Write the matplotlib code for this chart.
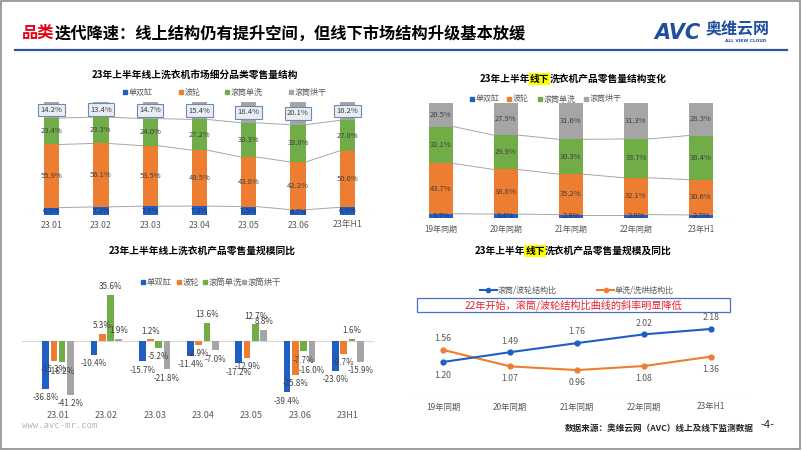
import matplotlib
matplotlib.use('Agg')
import matplotlib.pyplot as plt
from matplotlib.patches import Rectangle
from matplotlib.lines import Line2D
import matplotlib.transforms as mtrans

plt.rcParams['font.family'] = ['Noto Sans CJK SC', 'DejaVu Sans']

# ---------------- data ----------------
series = ['单双缸', '波轮', '滚筒单洗', '滚筒烘干']
colors = ['#1F5FC4', '#ED7D31', '#70AD47', '#A5A5A5']

c1_cats = ['23.01', '23.02', '23.03', '23.04', '23.05', '23.06', '23年H1']
c1_single = [6.5, 7.2, 7.8, 7.9, 7.5, 4.7, 6.8]
c1_pulsator = [55.9, 56.1, 53.5, 49.5, 43.8, 42.2, 50.0]
c1_drum_wash = [23.4, 23.3, 24.0, 27.2, 30.3, 33.0, 27.0]
c1_drum_dry = [14.2, 13.4, 14.7, 15.4, 18.4, 20.1, 16.2]

c2_cats = ['19年同期', '20年同期', '21年同期', '22年同期', '23年H1']
c2_single = [3.7, 3.4, 2.9, 2.9, 2.7]
c2_pulsator = [43.7, 38.8, 35.2, 32.1, 30.6]
c2_drum_wash = [32.1, 29.9, 30.3, 33.7, 38.4]
c2_drum_dry = [20.5, 27.9, 31.6, 31.3, 28.3]

c3_cats = ['23.01', '23.02', '23.03', '23.04', '23.05', '23.06', '23H1']
c3_single = [-36.8, -10.4, -15.7, -11.4, -17.2, -39.4, -23.0]
c3_pulsator = [-15.3, 5.3, 1.2, -2.9, -12.9, -25.8, -9.7]
c3_drum_wash = [-16.2, 35.6, -5.2, 13.6, 12.7, -7.7, 1.6]
c3_drum_dry = [-41.2, 1.9, -21.8, -7.0, 8.8, -16.0, -15.9]

c4_cats = ['19年同期', '20年同期', '21年同期', '22年同期', '23年H1']
c4_series = ['滚筒/波轮结构比', '单洗/洗烘结构比']
c4_drum_ratio = [1.20, 1.49, 1.76, 2.02, 2.18]
c4_wash_ratio = [1.56, 1.07, 0.96, 1.08, 1.36]

# ---------------- figure ----------------
W, H = 802, 451
fig = plt.figure(figsize=(W / 100, H / 100), dpi=100)
renderer = fig.canvas.get_renderer()


def fx(x):
    return x / W


def fy(y):
    return 1 - y / H


def ax_px(l, t, r, b):
    a = fig.add_axes([l / W, 1 - b / H, (r - l) / W, (b - t) / H])
    a.set_axis_off()
    return a


def piece_text(x, y, pieces, size, weight='bold', align='center'):
    texts = []
    for s, c, bg in pieces:
        kw = {}
        if bg:
            kw['bbox'] = dict(facecolor=bg, edgecolor='none', pad=0.6)
        t = fig.text(0, fy(y), s, fontsize=size, color=c, fontweight=weight,
                     va='center', ha='left', **kw)
        texts.append(t)
    widths = [t.get_window_extent(renderer).width for t in texts]
    total = sum(widths)
    start = x - total / 2 if align == 'center' else x
    for t, w in zip(texts, widths):
        t.set_x(fx(start))
        start += w


def legend_sq(items, y, size, msz=4, tcolor='#595959'):
    for x, label, color in items:
        fig.patches.append(Rectangle((fx(x - msz / 2), fy(y + msz / 2)), msz / W, msz / H,
                                     transform=fig.transFigure, color=color))
        fig.text(fx(x + 4), fy(y), label, fontsize=size, color=tcolor, va='center', ha='left')


def hline_px(x0, x1, y, color, lw):
    fig.lines.append(Line2D([fx(x0), fx(x1)], [fy(y), fy(y)], transform=fig.transFigure,
                            color=color, lw=lw))


# slide border and header
fig.patches.append(Rectangle((fx(1), fy(449)), 799 / W, 448 / H, transform=fig.transFigure,
                             fill=False, ec='#8C8C8C', lw=1.2))
piece_text(22, 33, [('品类', '#E60012', None),
                    ('迭代降速：线上结构仍有提升空间，但线下市场结构升级基本放缓', '#000000', None)],
           11.7, align='left')
hline_px(15, 787, 49.5, '#2F5597', 1.6)
fig.text(fx(654), fy(33), 'AVC', fontsize=15, color='#1F4E9F', fontweight='bold',
         fontstyle='italic', family='DejaVu Sans', va='center', ha='left')
fig.text(fx(706), fy(29), '奥维云网', fontsize=11.5, color='#1F4E9F', fontweight='bold',
         va='center', ha='left')
fig.text(fx(746), fy(41), 'ALL VIEW CLOUD', fontsize=3.2, color='#1F4E9F', fontweight='bold',
         family='DejaVu Sans', va='center', ha='center')


def stacked(ax, cats, data, width, top_box, cat_y, cat_size):
    n = len(cats)
    bottoms = [0.0] * n
    cums = []
    for k, vals in enumerate(data):
        ax.bar(range(n), vals, width=width, bottom=bottoms, color=colors[k], zorder=3)
        for i, v in enumerate(vals):
            c = bottoms[i] + v / 2
            if k == 3 and top_box:
                ax.text(i, c, f'{v:.1f}%', fontsize=5.5, color='#404040', ha='center', va='center',
                        zorder=6, bbox=dict(boxstyle='square,pad=0.3', fc='#E8EDF4', ec='#7189AE', lw=0.8))
            else:
                ax.text(i, c, f'{v:.1f}%', fontsize=5.5, color='#404040' if k else '#203864',
                        ha='center', va='center', zorder=5)
        bottoms = [b + v for b, v in zip(bottoms, vals)]
        cums.append(list(bottoms))
    for k in range(3):
        for i in range(n - 1):
            ax.plot([i + width / 2, i + 1 - width / 2], [cums[k][i], cums[k][i + 1]],
                    color='#A6A6A6', lw=0.7, zorder=2)
    ax.axhline(0, color='#D9D9D9', lw=0.8, zorder=1)
    ax.set_xlim(-0.5, n - 0.5)
    ax.set_ylim(0, 100)
    tr = mtrans.blended_transform_factory(ax.transData, fig.transFigure)
    for i, c in enumerate(cats):
        ax.text(i, fy(cat_y), c, transform=tr, fontsize=cat_size, color='#595959',
                ha='center', va='center')


# ---------- chart 1 ----------
piece_text(195, 75, [('23年上半年线上洗衣机市场细分品类零售量结构', '#000000', None)], 7)
legend_sq([(125, series[0], colors[0]), (181, series[1], colors[1]),
           (227, series[2], colors[2]), (291, series[3], colors[3])], 92, 5.8)
ax1 = ax_px(27, 102, 372, 215)
stacked(ax1, c1_cats, [c1_single, c1_pulsator, c1_drum_wash, c1_drum_dry], 0.31, True, 225, 6.3)

# ---------- chart 2 ----------
piece_text(573, 79, [('23年上半年', '#000000', None), ('线下', '#000000', '#FFFF00'),
                     ('洗衣机产品零售量结构变化', '#000000', None)], 7)
legend_sq([(472, series[0], colors[0]), (509, series[1], colors[1]),
           (540, series[2], colors[2]), (586, series[3], colors[3])], 99, 5.8)
ax2 = ax_px(408.5, 103, 733.5, 218)
stacked(ax2, c2_cats, [c2_single, c2_pulsator, c2_drum_wash, c2_drum_dry], 0.38, False, 229, 5.8)

# ---------- chart 3 ----------
piece_text(202, 251, [('23年上半年线上洗衣机产品零售量规模同比', '#000000', None)], 7)
legend_sq([(143, series[0], colors[0]), (179, series[1], colors[1]),
           (205, series[2], colors[2]), (244, series[3], colors[3])], 282, 6)
ax3 = ax_px(22, 289, 375, 406)
pitch, bw = 0.172, 0.138
for k, vals in enumerate([c3_single, c3_pulsator, c3_drum_wash, c3_drum_dry]):
    xs = [i + (k - 1.5) * pitch for i in range(len(vals))]
    ax3.bar(xs, vals, width=bw, color=colors[k], zorder=3)
    for x, v in zip(xs, vals):
        ax3.annotate(f'{v:.1f}%', (x, v), xytext=(0, 6 if v > 0 else -6.5), textcoords='offset points',
                     fontsize=5.8, color='#404040', ha='center', va='center', zorder=5)
ax3.axhline(0, color='#D9D9D9', lw=0.8, zorder=1)
ax3.set_xlim(-0.745, 6.56)
ax3.set_ylim(-50, 40)
tr3 = mtrans.blended_transform_factory(ax3.transData, fig.transFigure)
for i, c in enumerate(c3_cats):
    ax3.text(i, fy(416), c, transform=tr3, fontsize=6.5, color='#595959', ha='center', va='center')
fig.text(fx(22), fy(426), 'www.avc-mr.com', fontsize=6.5, color='#B8B8B8',
         family='DejaVu Sans Mono', va='center', ha='left')

# ---------- chart 4 ----------
piece_text(573, 251, [('23年上半年', '#000000', None), ('线下', '#000000', '#FFFF00'),
                      ('洗衣机产品零售量规模及同比', '#000000', None)], 7)
c4_colors = ['#1F5FC4', '#ED7D31']
for (x0, x1), lab, col in zip([(480, 497), (597, 614)], c4_series, c4_colors):
    fig.lines.append(Line2D([fx(x0), fx(x1)], [fy(290), fy(290)], transform=fig.transFigure,
                            color=col, lw=1.5))
    fig.lines.append(Line2D([fx((x0 + x1) / 2)], [fy(290)], transform=fig.transFigure,
                            color=col, marker='o', ms=3))
    fig.text(fx(x1 + 1), fy(290), lab, fontsize=5.8, color='#595959', va='center', ha='left')
fig.patches.append(Rectangle((fx(417), fy(312)), 313 / W, 14 / H, transform=fig.transFigure,
                             fc='white', ec='#4472C4', lw=0.9, zorder=5))
fig.text(fx(573), fy(305), '22年开始，滚筒/波轮结构比曲线的斜率明显降低', fontsize=7.3,
         color='#E8202A', va='center', ha='center', zorder=6)
ax4 = ax_px(409.5, 300, 744.5, 397)
xs4 = list(range(len(c4_cats)))
ax4.plot(xs4, c4_drum_ratio, color=c4_colors[0], lw=1.5, marker='o', ms=3.5, zorder=4)
ax4.plot(xs4, c4_wash_ratio, color=c4_colors[1], lw=1.5, marker='o', ms=3.5, zorder=3)
for i, v in enumerate(c4_drum_ratio):
    off = -9.5 if i == 0 else 8
    ax4.annotate(f'{v:.2f}', (i, v), xytext=(0, off), textcoords='offset points', fontsize=6.3,
                 color='#595959', ha='center', va='center')
for i, v in enumerate(c4_wash_ratio):
    off = 8.5 if i == 0 else -9
    ax4.annotate(f'{v:.2f}', (i, v), xytext=(0, off), textcoords='offset points', fontsize=6.3,
                 color='#595959', ha='center', va='center')
ax4.set_xlim(-0.5, 4.5)
ax4.set_ylim(0.161, 3.039)
ax4.axhline(0.161, color='#D9D9D9', lw=0.9)
tr4 = mtrans.blended_transform_factory(ax4.transData, fig.transFigure)
for i, c in enumerate(c4_cats):
    ax4.text(i, fy(407), c, transform=tr4, fontsize=6, color='#595959', ha='center', va='center')

fig.text(fx(565), fy(428), '数据来源：奥维云网（AVC）线上及线下监测数据', fontsize=6.2,
         color='#262626', fontweight='bold', va='center', ha='left')
fig.text(fx(767), fy(425), '-4-', fontsize=8, color='#262626', va='center', ha='center')

fig.savefig('out.png', dpi=100)
